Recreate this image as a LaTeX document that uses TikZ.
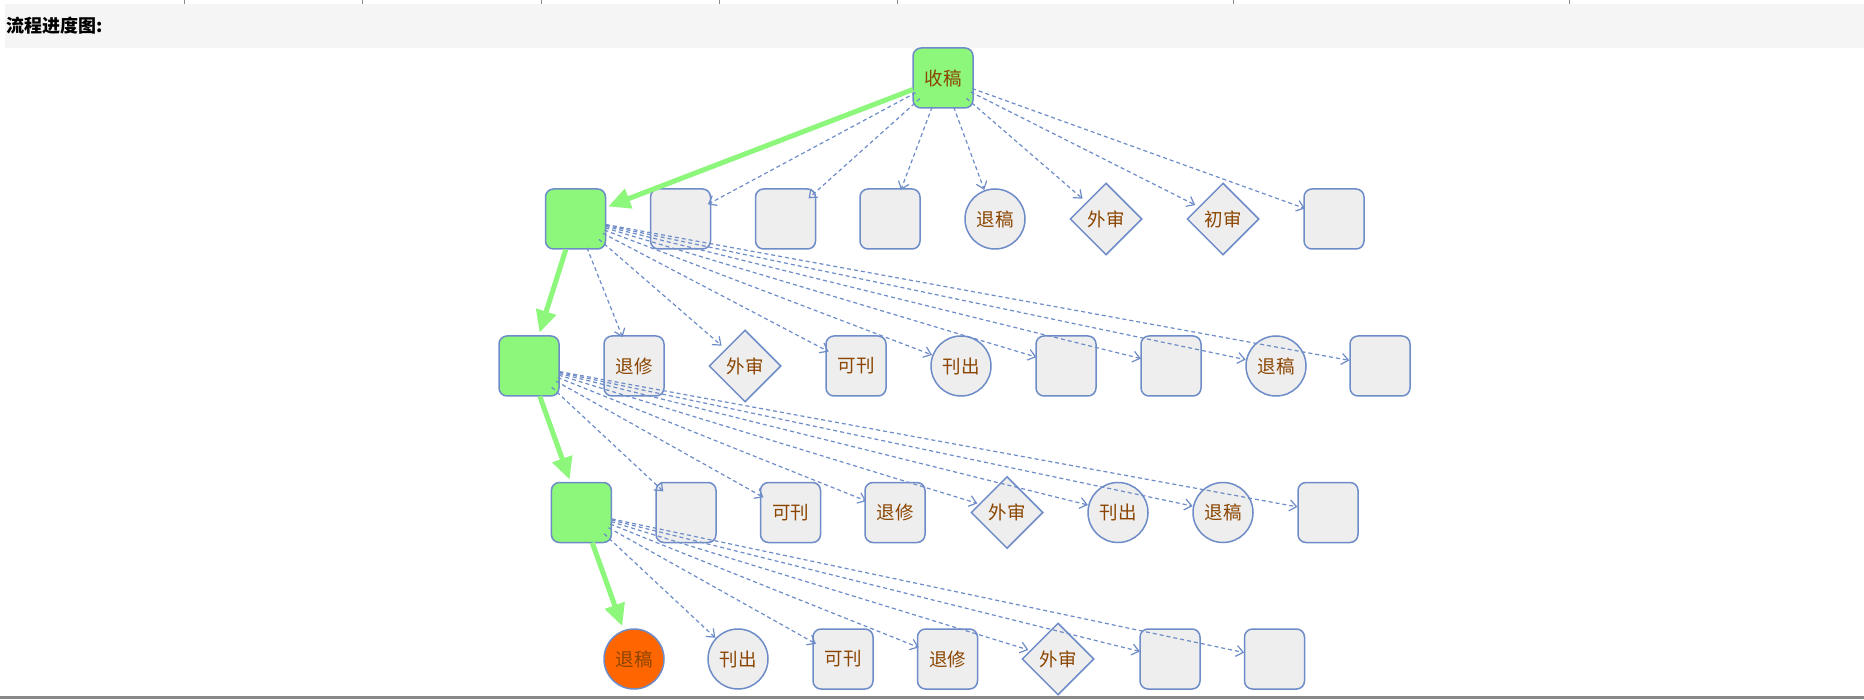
\documentclass[tikz,border=0pt]{standalone}
\usepackage{fontspec}
\setmainfont{Noto Sans CJK SC}
\usetikzlibrary{shapes.geometric,arrows.meta}
\definecolor{nborder}{HTML}{6E8CC8}
\definecolor{ngray}{HTML}{EEEEEE}
\definecolor{ngreen}{HTML}{8CF77A}
\definecolor{norange}{HTML}{FF6600}
\definecolor{ntext}{HTML}{8B4500}
\definecolor{hdr}{HTML}{F5F5F5}
\definecolor{tick}{HTML}{888888}
\begin{document}
\begin{tikzpicture}[x=1pt,y=-1pt,
  base/.style={draw=nborder, line width=1.5pt, fill=ngray, text=ntext, font=\fontsize{18.5}{20}\selectfont, inner sep=0pt},
  sq/.style={base, rectangle, rounded corners=8pt, minimum width=60pt, minimum height=60pt},
  rd/.style={base, circle, minimum size=60pt},
  dm/.style={base, diamond, minimum width=72pt, minimum height=72pt},
  done/.style={fill=ngreen},
  dashedge/.style={draw=nborder, line width=1.2pt, dash pattern=on 4pt off 3pt, shorten <=31pt, shorten >=31pt, -{Straight Barb[length=7pt,width=11pt,line width=1.2pt]}},
  greenedge/.style={draw=ngreen, line width=5pt, shorten <=32pt, shorten >=35pt, -{Triangle[length=22pt,width=20pt]}}
]
\useasboundingbox (0,0) rectangle (1864,700);
\fill[white] (0,0) rectangle (1864,700);
% header
\fill[hdr] (4.5,4) rectangle (1864,48);
\foreach \tx in {184,362.6,541,719,897.5,1233,1569}{
  \draw[tick, line width=1pt] (\tx,0) -- (\tx,4);
}
\node[anchor=west, inner sep=0pt, font=\fontsize{18}{20}\selectfont\bfseries] (title) at (6,26) {流程进度图:};
\draw[tick, line width=2.5pt] (0,697.5) -- (1864,697.5);

% row 0
\node[sq, done] (S) at (943,78) {收稿};
% row 1
\node[sq, done] (a1) at (575.5,219) {};
\node[sq] (a2) at (680.5,219) {};
\node[sq] (a3) at (785.5,219) {};
\node[sq] (a4) at (890,219) {};
\node[rd] (a5) at (995,219) {退稿};
\node[dm] (a6) at (1106,219) {外审};
\node[dm] (a7) at (1223,219) {初审};
\node[sq] (a8) at (1334,219) {};
% row 2
\node[sq, done] (b1) at (529,366) {};
\node[sq] (b2) at (634,366) {退修};
\node[dm] (b3) at (745,366) {外审};
\node[sq] (b4) at (856,366) {可刊};
\node[rd] (b5) at (961,366) {刊出};
\node[sq] (b6) at (1066,366) {};
\node[sq] (b7) at (1171,366) {};
\node[rd] (b8) at (1276,366) {退稿};
\node[sq] (b9) at (1380,366) {};
% row 3
\node[sq, done] (c1) at (581.4,512.5) {};
\node[sq] (c2) at (686,512.5) {};
\node[sq] (c3) at (790.5,512.5) {可刊};
\node[sq] (c4) at (895,512.5) {退修};
\node[dm] (c5) at (1007,512.5) {外审};
\node[rd] (c6) at (1118,512.5) {刊出};
\node[rd] (c7) at (1223,512.5) {退稿};
\node[sq] (c8) at (1328,512.5) {};
% row 4
\node[rd, fill=norange] (d1) at (634,659) {退稿};
\node[rd] (d2) at (738,659) {刊出};
\node[sq] (d3) at (843,659) {可刊};
\node[sq] (d4) at (947.5,659) {退修};
\node[dm] (d5) at (1058,659) {外审};
\node[sq] (d6) at (1170,659) {};
\node[sq] (d7) at (1274.5,659) {};

% edges
\foreach \t in {a2,a3,a4,a5,a6,a7,a8}{ \draw[dashedge] (S.center) -- (\t.center); }
\foreach \t in {b2,b3,b4,b5,b6,b7,b8,b9}{ \draw[dashedge] (a1.center) -- (\t.center); }
\foreach \t in {c2,c3,c4,c5,c6,c7,c8}{ \draw[dashedge] (b1.center) -- (\t.center); }
\foreach \t in {d2,d3,d4,d5,d6,d7}{ \draw[dashedge] (c1.center) -- (\t.center); }
\draw[greenedge] (S.center) -- (a1.center);
\draw[greenedge] (a1.center) -- (b1.center);
\draw[greenedge] (b1.center) -- (c1.center);
\draw[greenedge] (c1.center) -- (d1.center);
\end{tikzpicture}
\end{document}
